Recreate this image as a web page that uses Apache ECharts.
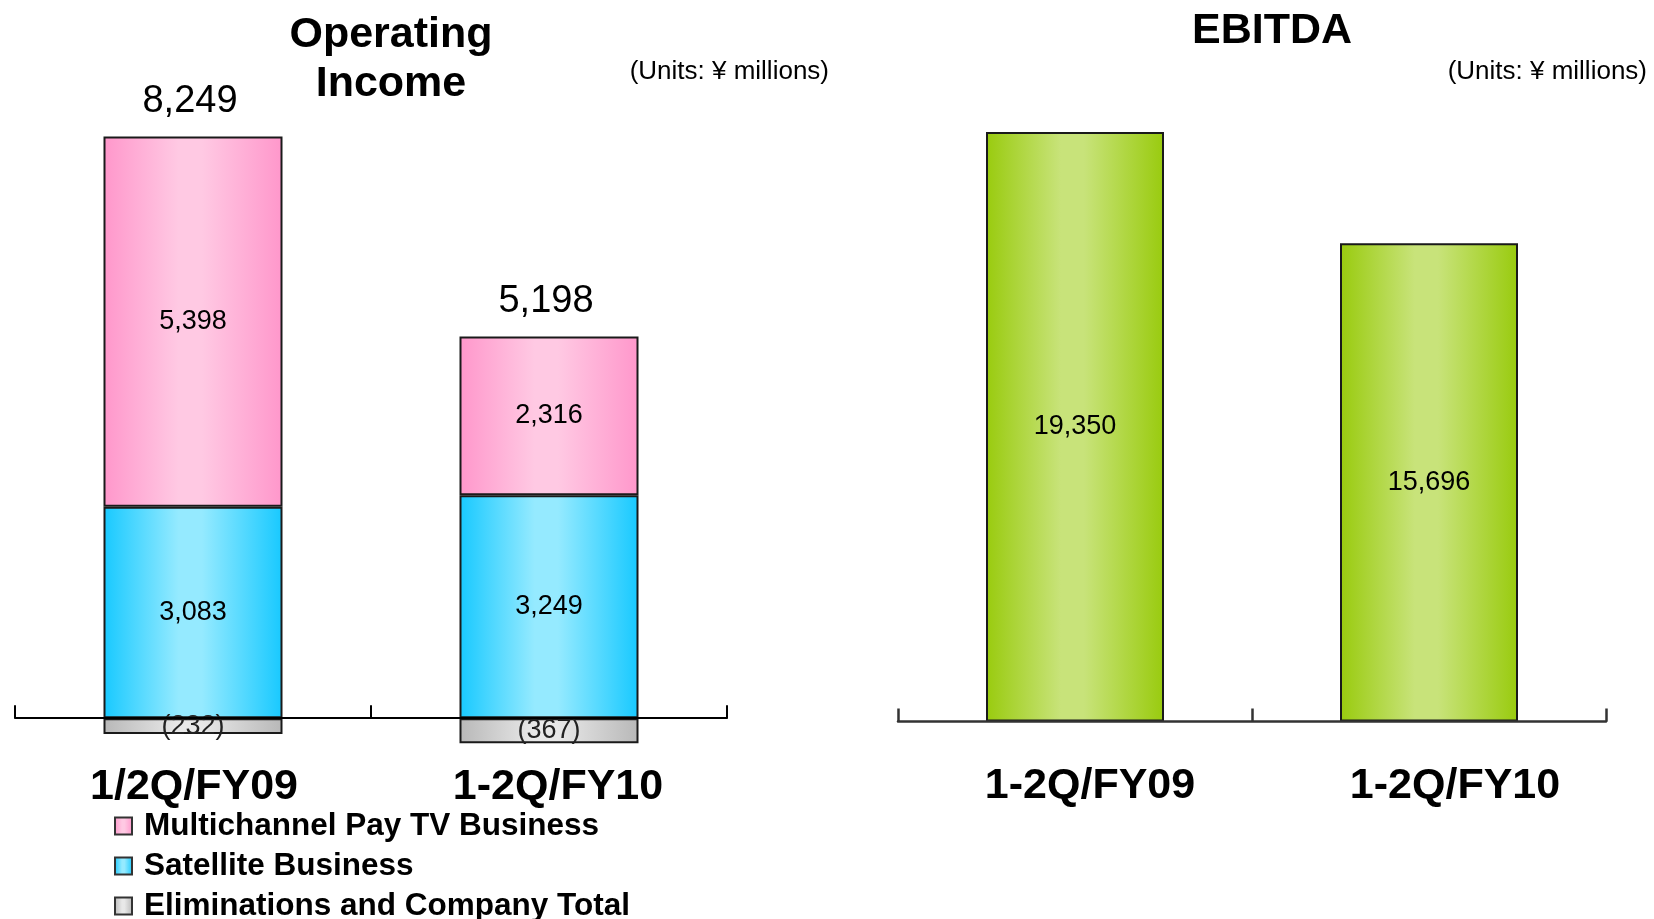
<!DOCTYPE html>
<html>
<head>
<meta charset="utf-8">
<title>Operating Income and EBITDA</title>
<script src="https://cdn.jsdelivr.net/npm/echarts@6/dist/echarts.min.js"></script>
<style>
  html, body { margin: 0; padding: 0; background: #fff; }
  #chart { width: 1654px; height: 919px; }
</style>
</head>
<body>
<div id="chart"></div>
<script>
// Operating income by segment (¥ millions)
const oiCategories = ['1/2Q/FY09', '1-2Q/FY10'];
const multichannel = [5398, 2316];
const satellite = [3083, 3249];
const eliminations = [-232, -367];
const oiTotals = [8249, 5198];

// EBITDA (¥ millions)
const ebitdaCategories = ['1-2Q/FY09', '1-2Q/FY10'];
const ebitda = [19350, 15696];

const seriesNames = ['Multichannel Pay TV Business', 'Satellite Business', 'Eliminations and Company Total'];

const FONT = '"Liberation Sans", Arial, sans-serif';

function fmt(v) {
  const s = Math.abs(v).toLocaleString('en-US');
  return v < 0 ? '(' + s + ')' : s;
}

// Horizontal "cylinder" shading: darker at the edges, light in the middle
function shade(edge, mid) {
  return {
    type: 'linear', x: 0, y: 0, x2: 1, y2: 0,
    colorStops: [
      { offset: 0, color: edge },
      { offset: 0.42, color: mid },
      { offset: 0.55, color: mid },
      { offset: 1, color: edge }
    ]
  };
}

// Category label styles: the second label sits a little right of its band centre
function catLabel(margin, pad0, pad1) {
  const base = { fontFamily: FONT, fontSize: 43, fontWeight: 'bold', color: '#000' };
  return {
    margin: margin,
    formatter: (v, i) => '{c' + i + '|' + v + '}',
    rich: {
      c0: Object.assign({ padding: [0, 0, 0, pad0] }, base),
      c1: Object.assign({ padding: [0, 0, 0, pad1] }, base)
    }
  };
}

const barBorder = { borderColor: '#1a1a1a', borderWidth: 2 };
const innerLabel = { show: true, position: 'inside', fontSize: 27, color: '#000', fontFamily: FONT, formatter: p => fmt(p.value) };

const chart = echarts.init(document.getElementById('chart'));

chart.setOption({
  animation: false,
  backgroundColor: '#fff',
  title: [
    { text: 'Operating\nIncome', left: 391, top: 11, padding: 0, textAlign: 'center',
      textStyle: { fontFamily: FONT, fontSize: 43, fontWeight: 'bold', color: '#000', lineHeight: 49 } },
    { text: '(Units: ¥ millions)', right: 825, top: 59, padding: 0,
      textStyle: { fontFamily: FONT, fontSize: 26, fontWeight: 'normal', color: '#000' } },
    { text: 'EBITDA', left: 1272, top: 7, padding: 0, textAlign: 'center',
      textStyle: { fontFamily: FONT, fontSize: 43, fontWeight: 'bold', color: '#000', lineHeight: 49 } },
    { text: '(Units: ¥ millions)', right: 7, top: 59, padding: 0,
      textStyle: { fontFamily: FONT, fontSize: 26, fontWeight: 'normal', color: '#000' } }
  ],
  legend: {
    orient: 'vertical', left: 114, top: 810, height: 160, padding: 0,
    itemWidth: 17, itemHeight: 17, itemGap: 8,
    icon: 'rect', selectedMode: false,
    data: seriesNames,
    itemStyle: { borderColor: '#333', borderWidth: 2 },
    textStyle: { fontFamily: FONT, fontSize: 31.5, fontWeight: 'bold', color: '#000', lineHeight: 32, padding: [0, 0, 0, 7] }
  },
  grid: [
    { left: 15, top: 100.8, width: 712, height: 644.8 },
    { left: 898, top: 112.2, width: 708, height: 609.3 }
  ],
  xAxis: [
    {
      gridIndex: 0, type: 'category', data: oiCategories, z: 5,
      axisLine: { onZero: true, lineStyle: { color: '#000', width: 2 } },
      axisTick: { show: true, inside: true, length: 13, lineStyle: { color: '#000', width: 2 } },
      axisLabel: catLabel(20, 2, 18)
    },
    {
      gridIndex: 1, type: 'category', data: ebitdaCategories, z: 5,
      axisLine: { onZero: true, lineStyle: { color: '#333', width: 2.5 } },
      axisTick: { show: true, inside: true, length: 13, lineStyle: { color: '#333', width: 2.5 } },
      axisLabel: catLabel(43, 30, 52)
    }
  ],
  yAxis: [
    { gridIndex: 0, type: 'value', min: -400, max: 9000, show: false },
    { gridIndex: 1, type: 'value', min: 0, max: 20000, show: false }
  ],
  series: [
    {
      name: seriesNames[1], type: 'bar', stack: 'oi', xAxisIndex: 0, yAxisIndex: 0,
      barWidth: 179, data: satellite,
      itemStyle: Object.assign({ color: shade('#18c9ff', '#95eaff') }, barBorder),
      label: innerLabel
    },
    {
      name: seriesNames[0], type: 'bar', stack: 'oi', xAxisIndex: 0, yAxisIndex: 0,
      barWidth: 179, data: multichannel,
      itemStyle: Object.assign({ color: shade('#ff97cb', '#ffc9e3') }, barBorder),
      label: innerLabel
    },
    {
      name: seriesNames[2], type: 'bar', stack: 'oi', xAxisIndex: 0, yAxisIndex: 0,
      barWidth: 179, data: eliminations,
      itemStyle: Object.assign({ color: shade('#b8b8b8', '#e8e8e8') }, barBorder),
      label: Object.assign({}, innerLabel, { color: '#222' })
    },
    {
      // Segment total printed above each stacked column
      name: 'Total', type: 'custom', xAxisIndex: 0, yAxisIndex: 0, z: 6,
      data: oiTotals.map((t, i) => [i, t]),
      renderItem: function (params, api) {
        const i = api.value(0);
        const top = satellite[i] + multichannel[i];
        const p = api.coord([i, top]);
        return {
          type: 'text', x: p[0] - 3, y: p[1] - 16,
          style: { text: fmt(api.value(1)), align: 'center', verticalAlign: 'bottom',
                   font: '38px ' + FONT, fill: '#000' }
        };
      }
    },
    {
      name: 'EBITDA', type: 'bar', xAxisIndex: 1, yAxisIndex: 1,
      barWidth: 178, data: ebitda,
      itemStyle: Object.assign({ color: shade('#99cb0e', '#c8e37a') }, barBorder),
      label: innerLabel
    }
  ]
});
</script>
</body>
</html>
